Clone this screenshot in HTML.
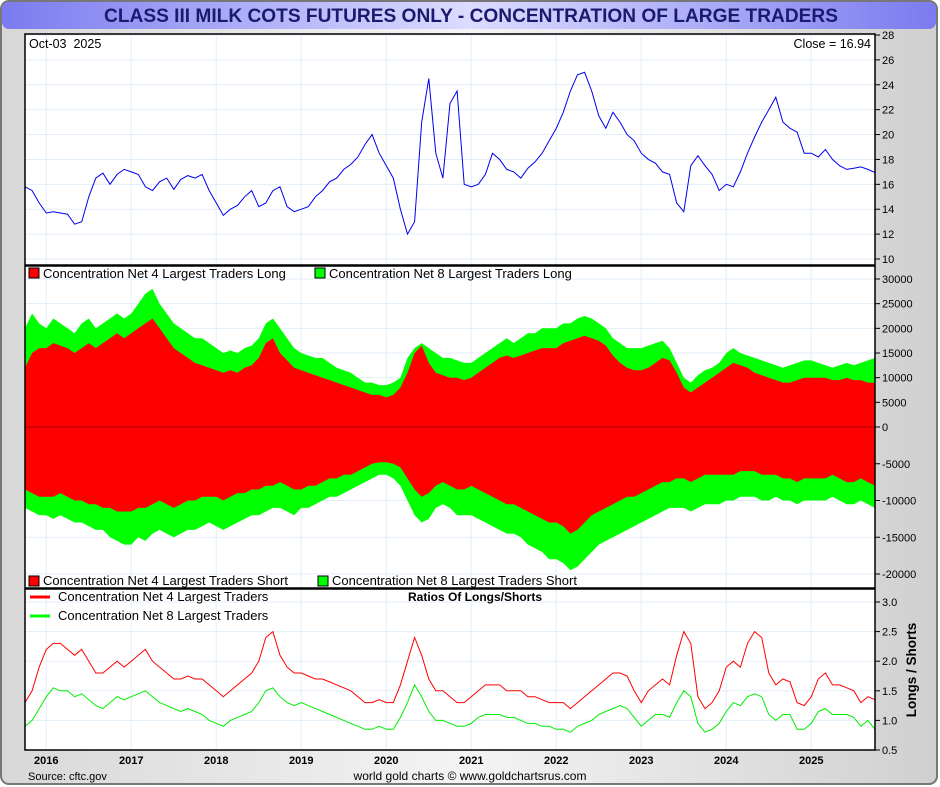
<!DOCTYPE html>
<html><head><meta charset="utf-8"><style>
body{margin:0;width:940px;height:787px;overflow:hidden;background:#fff;font-family:"Liberation Sans",sans-serif}
</style></head><body>
<svg id="c" width="940" height="787" xmlns="http://www.w3.org/2000/svg" style="position:absolute;left:0;top:0">
<defs>
<linearGradient id="tg" x1="0" x2="1" y1="0" y2="0"><stop offset="0" stop-color="#7b7bf0"/><stop offset="0.5" stop-color="#dcdcff"/><stop offset="1" stop-color="#7b7bf0"/></linearGradient>
<linearGradient id="bg" x1="0" x2="1" y1="0" y2="0"><stop offset="0" stop-color="#d8d8d8"/><stop offset="0.5" stop-color="#f4f4f4"/><stop offset="1" stop-color="#d0d0d0"/></linearGradient>
</defs>
<rect x="1" y="1" width="936" height="783" rx="8" fill="url(#bg)" stroke="#777" stroke-width="2"/>
<rect x="2" y="2" width="934" height="27" rx="7" fill="url(#tg)"/>
<text x="104" y="22" textLength="734" lengthAdjust="spacingAndGlyphs" font-size="19" font-weight="bold" fill="#1a1a6e">CLASS III MILK COTS FUTURES ONLY - CONCENTRATION OF LARGE TRADERS</text>
<rect x="25" y="34" width="850" height="716" fill="#fff"/>
<g id="grid"></g>
<g id="marks"></g>
<g id="axes"></g>
<rect x="25" y="34" width="850" height="716" fill="none" stroke="#000" stroke-width="1.5"/>
<line x1="25" x2="875" y1="265.5" y2="265.5" stroke="#000" stroke-width="2.5"/>
<line x1="25" x2="875" y1="588.5" y2="588.5" stroke="#000" stroke-width="2.5"/>
<text x="29" y="48" font-size="12.5" xml:space="preserve">Oct-03  2025</text>
<text x="871" y="48" font-size="12.5" text-anchor="end">Close = 16.94</text>
<g font-size="13">
<rect x="29" y="268" width="10" height="10" fill="#f00" stroke="#000"/><text x="43" y="278">Concentration Net 4 Largest Traders Long</text>
<rect x="315" y="268" width="10" height="10" fill="#0f0" stroke="#000"/><text x="329" y="278">Concentration Net 8 Largest Traders Long</text>
</g>
<g font-size="13">
<rect x="29" y="576" width="10" height="10" fill="#f00" stroke="#000"/><text x="43" y="585">Concentration Net 4 Largest Traders Short</text>
<rect x="318" y="576" width="10" height="10" fill="#0f0" stroke="#000"/><text x="332" y="585">Concentration Net 8 Largest Traders Short</text>
</g>
<g font-size="13">
<line x1="30" x2="50" y1="597" y2="597" stroke="#f00" stroke-width="3"/><text x="58" y="601">Concentration Net 4 Largest Traders</text>
<line x1="30" x2="50" y1="616" y2="616" stroke="#0f0" stroke-width="3"/><text x="58" y="620">Concentration Net 8 Largest Traders</text>
</g>
<text x="475" y="601" text-anchor="middle" font-size="12" font-weight="bold">Ratios Of Longs/Shorts</text>
<text transform="translate(916,670) rotate(-90)" text-anchor="middle" font-size="13.5" font-weight="bold">Longs / Shorts</text>
<text x="28" y="780" font-size="11">Source: cftc.gov</text>
<text x="470" y="780" font-size="12" text-anchor="middle">world gold charts © www.goldchartsrus.com</text>
</svg>
<script>
const price=[15.8,15.5,14.5,
13.7,13.8,13.7,13.6,12.8,13.0,15.0,16.5,16.9,16.0,16.8,17.2,
17.0,16.8,15.8,15.5,16.2,16.5,15.6,16.4,16.7,16.5,16.8,15.5,
14.5,13.5,14.0,14.3,15.0,15.5,14.2,14.5,15.5,15.8,14.2,13.8,
14.0,14.2,15.0,15.5,16.2,16.5,17.2,17.6,18.2,19.2,20.0,18.5,
17.5,16.5,14.0,12.0,13.0,21.0,24.5,18.5,16.5,22.5,23.5,16.0,
15.8,16.0,16.8,18.5,18.0,17.2,17.0,16.5,17.3,17.8,18.5,19.5,
20.5,21.8,23.5,24.8,25.0,23.5,21.5,20.5,21.8,21.0,20.0,19.5,
18.5,18.0,17.7,17.0,16.8,14.5,13.8,17.5,18.3,17.5,16.8,15.5,
16.0,15.8,17.0,18.5,19.8,21.0,22.0,23.0,21.0,20.5,20.2,18.5,
18.5,18.2,18.8,18.0,17.5,17.2,17.3,17.4,17.2,16.94];
const long8=[20000,23000,21000,
20000,22000,21000,20000,19000,21000,22000,20000,21000,22000,23000,22000,
23000,25000,27000,28000,25000,23000,21000,20000,19000,18000,18000,17000,
16000,15000,15500,15000,16000,16500,18000,21000,22000,20000,18000,16000,
15000,14500,14000,14000,13000,12000,11500,11000,10000,9000,9000,8500,
8500,9000,10000,14000,16000,17000,16000,15000,14000,14000,13500,13000,
13000,14000,15000,16000,17000,18000,17000,18000,19000,19000,20000,20000,
20000,21000,21000,22000,22500,22000,21000,20000,18000,17000,16000,16000,
16000,16500,17000,17500,16000,13000,10000,9000,10500,11500,12000,13000,
15000,16000,15000,14500,14000,13500,13000,12500,12000,12500,13000,13500,
13500,13000,12500,12000,12500,13000,12500,13000,13500,14000];
const long4=[12000,15000,16000,
16000,17000,16500,16000,15000,16000,17000,16000,17000,18000,19000,18000,
19000,20000,21000,22000,20000,18000,16000,15000,14000,13000,12500,12000,
11500,11000,11500,11000,12000,12500,14000,17000,18000,15000,13500,12000,
11500,11000,10500,10000,9500,9000,8500,8000,7500,7000,6500,6500,
6000,6500,8000,11000,15000,16500,13000,11000,10500,10000,10000,9500,
10000,11000,12000,13000,14000,14500,14000,14500,15000,15500,16000,16000,
16000,17000,17500,18000,18500,18000,17500,16500,14500,13000,12000,11500,
11500,12000,13000,14000,13500,11000,8000,7000,8000,9000,10000,11000,
12000,13000,12500,12000,11000,10500,10000,9500,9000,9000,9500,10000,
10000,10000,10000,9500,9500,10000,9500,9500,9000,9000];
const short8=[-11000,-11500,-12000,
-12000,-12500,-12000,-12500,-13000,-13000,-13500,-14000,-14000,-15000,-15500,-16000,
-16000,-15000,-15500,-14500,-14000,-14500,-15000,-14500,-14000,-14000,-13500,-13000,
-13500,-14000,-13500,-13000,-12500,-12000,-12000,-11500,-11000,-11000,-11500,-12000,
-11000,-11000,-10500,-10000,-9500,-9500,-9000,-8500,-8000,-7500,-7000,-6500,
-6500,-7000,-8000,-10000,-12000,-13000,-12500,-11000,-10500,-11000,-12000,-12000,
-12000,-12500,-13000,-13500,-14000,-14500,-14500,-15000,-16000,-16500,-17000,-18000,
-18000,-18500,-19500,-19000,-18000,-17000,-16000,-15500,-15000,-14500,-14000,-13500,
-13000,-12500,-12000,-11500,-11000,-11000,-11000,-11500,-11000,-10500,-10500,-10500,
-10000,-10000,-9500,-9500,-9500,-10000,-10000,-9500,-10000,-10000,-10500,-10000,
-10000,-10000,-10000,-9500,-10000,-10500,-10500,-10000,-10500,-11000];
const short4=[-8500,-9000,-9500,
-9500,-9500,-9000,-9500,-10000,-10000,-10500,-10500,-11000,-11000,-11500,-11500,
-11500,-11000,-11000,-10500,-10000,-10500,-11000,-10500,-10000,-10000,-9500,-9500,
-9500,-10000,-9500,-9000,-9000,-8500,-8500,-8000,-8000,-7500,-8000,-8500,
-8500,-8000,-8000,-7500,-7000,-7000,-6500,-6500,-6000,-5500,-5000,-4800,
-4800,-5000,-5500,-7000,-8500,-9500,-9000,-8000,-7500,-8000,-8500,-8500,
-8000,-8500,-9000,-9500,-10000,-10500,-10500,-11000,-11500,-12000,-12500,-13000,
-13000,-13500,-14500,-14000,-13000,-12000,-11500,-11000,-10500,-10000,-9500,-9500,
-9000,-8500,-8000,-7500,-7500,-7000,-7000,-7500,-7000,-6500,-6500,-6500,
-6500,-6500,-6000,-6000,-6000,-6500,-6500,-6500,-7000,-7000,-7500,-7000,
-7000,-7000,-7000,-6500,-7000,-7500,-7500,-7000,-7500,-8000];
const ratio4=[1.3,1.5,1.9,
2.2,2.3,2.3,2.2,2.1,2.2,2.0,1.8,1.8,1.9,2.0,1.9,
2.0,2.1,2.2,2.0,1.9,1.8,1.7,1.7,1.75,1.7,1.7,1.6,
1.5,1.4,1.5,1.6,1.7,1.8,2.0,2.4,2.5,2.1,1.9,1.8,
1.8,1.75,1.7,1.7,1.65,1.6,1.55,1.5,1.4,1.3,1.3,1.35,
1.3,1.3,1.6,2.0,2.4,2.1,1.7,1.5,1.5,1.4,1.3,1.3,
1.4,1.5,1.6,1.6,1.6,1.5,1.5,1.5,1.4,1.4,1.35,1.3,
1.3,1.3,1.2,1.3,1.4,1.5,1.6,1.7,1.8,1.8,1.75,1.5,
1.3,1.5,1.6,1.7,1.6,2.1,2.5,2.3,1.4,1.2,1.3,1.5,
1.9,2.0,1.9,2.3,2.5,2.4,1.8,1.6,1.7,1.65,1.3,1.25,
1.4,1.7,1.8,1.6,1.6,1.55,1.5,1.3,1.4,1.35];
const ratio8=[0.9,1.0,1.2,
1.4,1.55,1.5,1.5,1.4,1.45,1.35,1.25,1.2,1.3,1.4,1.35,
1.4,1.45,1.5,1.4,1.3,1.25,1.2,1.15,1.2,1.15,1.1,1.0,
0.95,0.9,1.0,1.05,1.1,1.15,1.3,1.5,1.55,1.4,1.3,1.25,
1.3,1.25,1.2,1.15,1.1,1.05,1.0,0.95,0.9,0.85,0.85,0.9,
0.85,0.85,1.05,1.3,1.6,1.4,1.15,1.0,1.0,0.95,0.9,0.9,
0.95,1.05,1.1,1.1,1.1,1.05,1.05,1.0,0.95,0.95,0.9,0.9,
0.85,0.85,0.8,0.9,0.95,1.0,1.1,1.15,1.2,1.25,1.2,1.05,
0.9,1.0,1.1,1.1,1.05,1.3,1.5,1.4,0.95,0.8,0.85,0.95,
1.15,1.3,1.25,1.4,1.45,1.4,1.1,1.0,1.1,1.1,0.85,0.85,
0.95,1.15,1.2,1.1,1.1,1.1,1.05,0.9,1.0,0.85];
const years=["2016","2017","2018","2019","2020","2021","2022","2023","2024","2025"];
const priceTicks=[10,12,14,16,18,20,22,24,26,28];
const cotTicks=[-20000,-15000,-10000,-5000,0,5000,10000,15000,20000,25000,30000];
const ratioTicks=[0.5,1.0,1.5,2.0,2.5,3.0];

const NS="http://www.w3.org/2000/svg";
const X0=25,X1=875,T0=2015.75,T1=2025.75;
function xT(t){return X0+(t-T0)/(T1-T0)*(X1-X0);}
function xI(i){return xT(T0+i/12);}
function yP(v){return 259-(v-10)/18*224;}
function yC(v){return v>=0?427-v/30000*148:427-v/20000*147;}
function yR(v){return 750-(v-0.5)/2.5*148;}
function mk(tag,at,parent){const e=document.createElementNS(NS,tag);for(const k in at)e.setAttribute(k,at[k]);document.getElementById(parent).appendChild(e);return e;}
years.forEach((y,i)=>{const x=xT(2016+i);
 const g=mk('line',{x1:x,x2:x,y1:34,y2:750,stroke:'#e3eef8','stroke-width':1},'grid');
 
 
 const t=mk('text',{x:x,y:764,'text-anchor':'middle','font-size':11,'font-weight':'bold'},'axes');t.textContent=y;
 
 
});
function ticks(arr,f,fmt){arr.forEach(v=>{const y=f(v);
 const g=mk('line',{x1:25,x2:875,y1:y,y2:y,stroke:'#e3eef8'},'grid');
 
 
 mk('line',{x1:875,x2:880,y1:y,y2:y,stroke:'#000'},'axes');
 const t=mk('text',{x:882,y:y+4,'font-size':11},'axes');t.textContent=fmt(v);
 
 
});}
ticks(priceTicks,yP,v=>v);
ticks(cotTicks,yC,v=>v);
ticks(ratioTicks,yR,v=>v.toFixed(1));
function area(arr,fill,name){let d='M'+xI(0)+','+yC(0);arr.forEach((v,i)=>d+=' L'+xI(i).toFixed(1)+','+yC(v).toFixed(1));d+=' L'+xI(arr.length-1)+','+yC(0)+'Z';
 const p=mk('path',{d:d,fill:fill},'marks');
 
 }
area(long8,'#00ff00','long-8-area');area(short8,'#00ff00','short-8-area');
area(long4,'#ff0000','long-4-area');area(short4,'#ff0000','short-4-area');
function line(arr,f,col,w){const pts=arr.map((v,i)=>xI(i).toFixed(1)+','+f(v).toFixed(1)).join(' ');
 return mk('polyline',{points:pts,fill:'none',stroke:col,'stroke-width':w},'marks');}
const zl=mk('line',{x1:25,x2:875,y1:yC(0),y2:yC(0),stroke:'#800','stroke-width':0.8},'marks');


const pl=line(price,yP,'#0000ee',1);


const r4=line(ratio4,yR,'#ff0000',1);


const r8=line(ratio8,yR,'#00ee00',1);


</script>
</body></html>
